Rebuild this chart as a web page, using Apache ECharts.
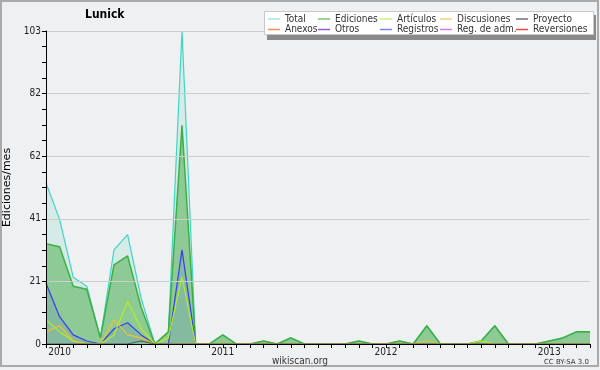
<!DOCTYPE html>
<html><head><meta charset="utf-8">
<script src="https://cdn.jsdelivr.net/npm/echarts@6/dist/echarts.min.js"></script>
<style>html,body{margin:0;padding:0;background:#eff0f2}#c{width:600px;height:370px}</style>
</head><body><div id="c"></div>
<script>
const months = ['2009-12','2010-01','2010-02','2010-03','2010-04','2010-05','2010-06','2010-07','2010-08','2010-09','2010-10','2010-11','2010-12','2011-01','2011-02','2011-03','2011-04','2011-05','2011-06','2011-07','2011-08','2011-09','2011-10','2011-11','2011-12','2012-01','2012-02','2012-03','2012-04','2012-05','2012-06','2012-07','2012-08','2012-09','2012-10','2012-11','2012-12','2013-01','2013-02','2013-03','2013-04'];
const total      = [53,41,22,19,2,31,36,15,0,4,103,0, 0,3,0,0,1,0,2,0,0,0,0,1, 0,0,1,0,6,0,0,0,1,6,0,0, 0,1,2,4,4];
const ediciones  = [33,32,19,18,2,26,29,12,0,4,72,0, 0,3,0,0,1,0,2,0,0,0,0,1, 0,0,1,0,6,0,0,0,1,6,0,0, 0,1,2,4,4];
const articulos  = [8,4,1,0,0,3,14,5,0,2,22,0, 0,0,0,0,0,0,0,0,0,0,0,0, 0,0,0,0,0,0,0,0,1,0,0,0, 0,0,0,0,0];
const discusiones= [4,6,1,0,0,8,3,2,0,0,0,0, 0,0,0,0,0,0,0,0,0,0,0,0, 0,0,0,0,1,0,0,0,0,0,0,0, 0,0,0,0,0];
const proyecto   = [0,0,0,0,0,0,0,1,0,0,0,0, 0,0,0,0,0,0,0,0,0,0,0,0, 0,0,0,0,0,0,0,0,0,0,0,0, 0,0,0,0,0];
const anexos = [];
const otros = [];
const registros  = [20,9,3,1,0,5,7,3,0,0,31,0, 0,0,0,0,0,0,0,0,0,0,0,0, 0,0,0,0,0,0,0,0,0,0,0,0, 0,0,0,0,0];
const regAdm = [];
const reversiones = [];
const yTicks = [0,21,41,62,82,103];

const FONT = 'DejaVu Sans';
const CFONT = 'DejaVu Sans Condensed';
const chart = echarts.init(document.getElementById('c'), null, {renderer:'canvas'});

const names = ['Total','Ediciones','Artículos','Discusiones','Proyecto','Anexos','Otros','Registros','Reg. de adm.','Reversiones'];
const lineCols = ['#3fd5c5','#3cb043','#b4ee20','#f0c030','#555555','#f08040','#8040d0','#3a3af2','#d040d0','#e03030'];
const legCols = ['#a6e6de','#7cc87c','#cdf27a','#f4d27a','#707070','#f09060','#9060d8','#8080f0','#d878e0','#e84848'];
const datas = [total,ediciones,articulos,discusiones,proyecto,anexos,otros,registros,regAdm,reversiones];

const series = names.map((n,i)=>{
  const s = {name:n, type:'line', data:datas[i], symbol:'none', z: 4,
    lineStyle:{color:lineCols[i], width: i===1?1.5:1.2}, itemStyle:{color:lineCols[i]}};
  if(i===0){ s.areaStyle={color:'#40d0b0',opacity:0.14}; s.z=1; }
  if(i===1){ s.areaStyle={color:'#44aa44',opacity:0.5}; s.z=2; }
  if(i===7){ s.areaStyle={color:'#3030ff',opacity:0.1}; s.z=3; }
  return s;
});

const colX = [268,318,380,440,516];
const legends = names.map((n,i)=>({
  data:[n], left: colX[i%5], top: i<5 ? 13 : 23.5, padding:0, z:70,
  icon:'rect', itemWidth:12, itemHeight:1.5, itemStyle:{color:legCols[i]},
  textStyle:{fontFamily:CFONT, fontSize:10, color:'#333', lineHeight:12},
  selectedMode:false
}));

chart.setOption({
  backgroundColor:'#eff0f2',
  animation:false,
  grid:{left:46, right:10, top:31, bottom:26, outerBoundsMode:'none', containLabel:false},
  xAxis:{type:'category', data:months, boundaryGap:false, z:10,
    axisLine:{lineStyle:{color:'#000', width:1}},
    axisTick:{show:true, interval:0, length:4, lineStyle:{color:'#000'}},
    axisLabel:{interval:(idx,v)=>v.slice(5)==='01', formatter:v=>v.slice(0,4), fontFamily:CFONT, fontSize:10, color:'#222', margin:3},
    splitLine:{show:false}},
  yAxis:{type:'value', min:0, max:103, interval:20.6, z:10,
    name:'Ediciones/mes', nameLocation:'middle', nameGap:29,
    nameTextStyle:{fontFamily:FONT, fontSize:11, color:'#000'},
    axisLine:{show:true, lineStyle:{color:'#000', width:1}},
    axisTick:{show:true, length:4, lineStyle:{color:'#000'}},
    minorTick:{show:true, splitNumber:4, length:4, lineStyle:{color:'#000'}},
    axisLabel:{formatter:v=>{const r=Math.round(v); return yTicks.includes(r)?String(r):'';}, fontFamily:CFONT, fontSize:10, color:'#222', margin:5},
    splitLine:{lineStyle:{color:'#cdcdcd', width:1}}},
  legend: legends,
  graphic:[
    {type:'rect', shape:{x:1, y:1, width:597, height:365}, style:{fill:'none', stroke:'#aaaaaa', lineWidth:2}, z:0, silent:true},
    {type:'rect', shape:{x:267, y:15, width:329, height:25}, style:{fill:'#8a8a8a'}, z:50},
    {type:'rect', shape:{x:264.5, y:11.5, width:329, height:23}, style:{fill:'#ffffff', stroke:'#c8c8c8', lineWidth:1}, z:51},
    {type:'text', left:85, top:9, style:{text:'Lunick', font:'bold 12px "'+CFONT+'"', fill:'#000'}, z:60},
    {type:'text', x:300, y:361, style:{text:'wikiscan.org', font:'10px "'+CFONT+'"', fill:'#333', align:'center', verticalAlign:'middle'}, z:60},
    {type:'text', x:589, y:362.5, style:{text:'CC BY-SA 3.0', font:'7px "'+FONT+'"', fill:'#333', align:'right', verticalAlign:'middle'}, z:60}
  ],
  series: series
});
</script></body></html>
